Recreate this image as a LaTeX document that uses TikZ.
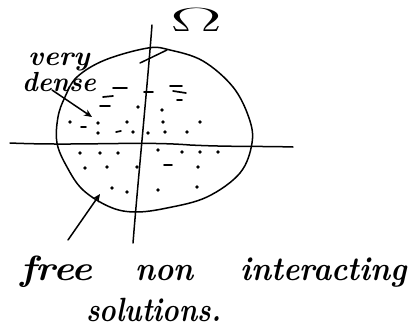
\documentclass[tikz,border=0pt]{standalone}
\usetikzlibrary{arrows.meta}
\begin{document}
\begin{tikzpicture}[x=1pt,y=-1pt,
  pen/.style={line width=1.5pt,line cap=round,line join=round},
  hand/.style={font=\bfseries\itshape\fontsize{28}{28}\selectfont,inner sep=0pt,anchor=base west},
  smallhand/.style={font=\bfseries\itshape\fontsize{24}{24}\selectfont,inner sep=0pt,anchor=base west},
  dotmark/.style={fill,circle,inner sep=0pt,minimum size=3.6pt},
  dashmark/.style={line width=1.7pt,line cap=round}]
\useasboundingbox (0,0) rectangle (418,335);
% domain
\draw[pen] plot[smooth cycle,tension=0.6] coordinates {(77,77) (105,60) (148,48) (170,50) (203,61) (233,87) (249,118) (252,143) (240,173) (207,197) (167,208) (135,212) (110,207) (83,190) (67,167) (57,143) (58,117) (65,97)};
\draw[pen] (140,63) -- (167,50);
% axes
\coordinate (vt) at (152,25);
\coordinate (vb) at (133,243);
\draw[pen] (vt) .. controls (147,90) and (138,180) .. (vb);
\coordinate (hl) at (10,143);
\coordinate (hr) at (293,147);
\draw[pen] (hl) .. controls (80,146) and (140,141) .. (190,145) .. controls (230,147) and (260,146) .. (hr);
% Omega
\node[inner sep=0pt,font=\Huge] (om) at (196,20) {\scalebox{3.1}[1.35]{$\Omega$}};
% dense region marks
\draw[dashmark] (113,88) -- (127,88);
\draw[dashmark] (103,97) -- (113,96);
\draw[dashmark] (100,106) -- (110,106);
\draw[dashmark] (144,92) -- (153,92);
\draw[dashmark] (170,86) -- (182,86);
\draw[dashmark] (173,91) -- (186,93);
\draw[dashmark] (177,100) -- (182,100);
\draw[dashmark] (81,127) -- (86,127);
\draw[dashmark] (116,132) -- (121,131);
\draw[dashmark] (164,165) -- (172,165);
\foreach \p in {(138,107),(162,110),(70,122),(98,123),(98,133),(127,122),(133,132),(148,133),(163,122),(165,132),(187,132),(200,122),
  (80,153),(100,153),(118,153),(158,150),(182,152),(200,152),(218,152),(85,168),(107,167),(137,167),(198,167),(112,188),(127,192),(158,190),(197,187)}
  \node[dotmark] at \p {};
% labels
\node[smallhand] (very) at (28,65) {\scalebox{1.2}[1.15]{very}};
\node[smallhand] (dense) at (22,91) {\scalebox{1.1}[1.15]{dense}};
\coordinate (d1) at (92,117);
\draw[pen,-{Stealth[length=8pt,width=7pt]}] (52,90) -- (d1);
\node[hand] (free) at (20,280) {\scalebox{1.4}[1.25]{free}};
\node[hand] (non) at (135,280) {\scalebox{1.1}[1.2]{non}};
\node[hand] (inter) at (240,280) {\scalebox{1.1}[1.2]{interacting}};
\node[hand] (sol) at (86,321) {\scalebox{1}[1.2]{solutions.}};
\coordinate (d2) at (100,194);
\draw[pen,-{Stealth[length=8pt,width=7pt]}] (68,240) -- (d2);
\end{tikzpicture}
\end{document}
